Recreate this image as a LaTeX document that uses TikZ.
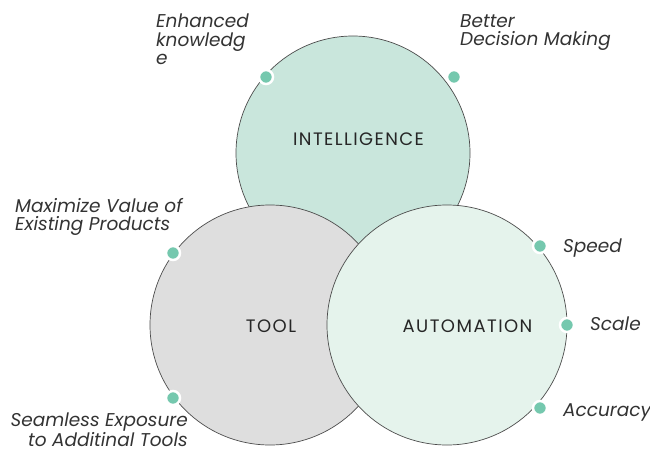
\documentclass[tikz,border=0pt]{standalone}
\usepackage{fontspec}
\setmainfont{Poppins}
\definecolor{intelfill}{HTML}{C9E6DC}
\definecolor{toolfill}{HTML}{DEDEDE}
\definecolor{autofill}{HTML}{E5F3EC}
\definecolor{dotgreen}{HTML}{75C8AE}
\definecolor{ink}{HTML}{333333}
\tikzset{
  bigcircle/.style={circle, draw=black!70, line width=0.7pt, minimum size=240pt, inner sep=0pt},
  dot/.style={circle, fill=dotgreen, draw=white, line width=2.5pt, minimum size=14pt, inner sep=0pt},
  lbl/.style={font=\fontsize{18.5}{18.5}\selectfont\itshape, text=ink, inner sep=0pt},
  title/.style={font=\fontsize{18}{20}\selectfont\addfontfeature{LetterSpace=8}, text=black!85, anchor=base}
}
\begin{document}
\begin{tikzpicture}[x=1pt,y=-1pt]
    \useasboundingbox (0,0) rectangle (650,452);
    \node[bigcircle, fill=intelfill, minimum size=234pt] (intel) at (353,153) {};
    \node[bigcircle, fill=toolfill] (tool) at (270,325) {};
    \node[bigcircle, fill=autofill] (auto) at (447,325) {};

    \node[title] (intelname) at (358.5,145) {INTELLIGENCE};
    \node[title] (toolname) at (271,332) {TOOL};
    \node[title] (autoname) at (467.5,332) {AUTOMATION};

    \node[dot] (knowdot) at (266,77) {};
    \node[dot] (decdot) at (454,77) {};
    \node[dot] (valuedot) at (173,253) {};
    \node[dot] (exposdot) at (173,398) {};
    \node[dot] (speeddot) at (540,246) {};
    \node[dot] (scaledot) at (567,325) {};
    \node[dot] (accdot) at (540,408) {};

    \node[lbl, anchor=north west, align=left] (know) at (156,14) {Enhanced\\knowledg\\e};
    \node[lbl, anchor=north west, align=left] (dec) at (460,14) {Better\\Decision Making};
    \node[lbl, anchor=north west, align=left] (value) at (15,198) {Maximize Value of\\Existing Products};
    \node[lbl, anchor=north east, align=right] (expos) at (188,413) {Seamless Exposure\\to Additinal Tools};
    \node[lbl, anchor=base west] (speed) at (563,252) {Speed};
    \node[lbl, anchor=base west] (scale) at (590,330) {Scale};
    \node[lbl, anchor=base west] (acc) at (563,416) {Accuracy};
  \end{tikzpicture}
\end{document}
